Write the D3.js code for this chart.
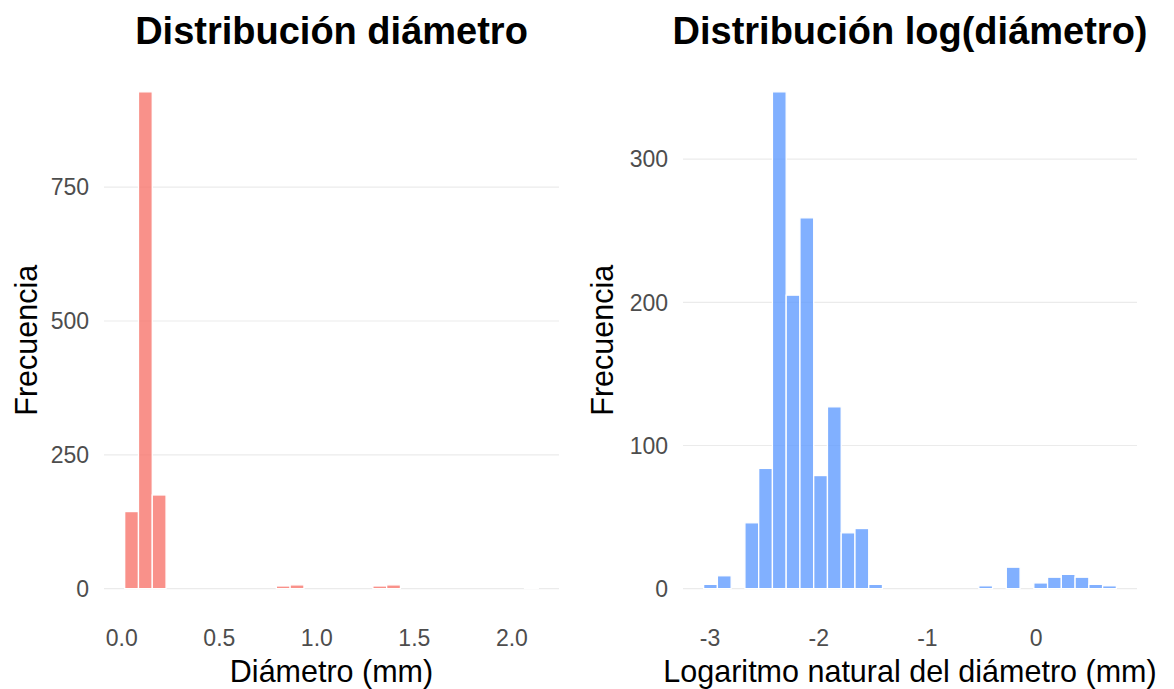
<!DOCTYPE html>
<html>
<head>
<meta charset="utf-8">
<script src="https://cdn.jsdelivr.net/npm/d3@7"></script>
<style>
  body { margin: 0; background: #fff; }
  text { font-family: "Liberation Sans", Arial, sans-serif; }
</style>
</head>
<body>
<svg id="chart" width="1174" height="689"></svg>
<script>
// histogram of diameter (30 bins)
var diamStart = 0.0146, diamWidth = 0.0707;
var diamCounts = [144, 928, 175, 0, 0, 0, 0, 0, 0, 0, 0, 5, 7, 0, 0,
                  0, 0, 0, 5, 7, 0, 0, 0, 0, 0, 0, 0, 0, 0, 1];
var diamXTicks = [0, 0.5, 1, 1.5, 2];
var diamYTicks = [0, 250, 500, 750];

// histogram of log(diameter) (30 bins)
var logStart = -3.059, logWidth = 0.1266;
var logCounts = [3, 9, 0, 46, 84, 347, 205, 259, 79, 127, 39, 42, 3, 0, 0,
                 0, 0, 0, 0, 0, 2, 0, 15, 0, 4, 8, 10, 8, 3, 2];
var logXTicks = [-3, -2, -1, 0];
var logYTicks = [0, 100, 200, 300];

var svg = d3.select('#chart');
var panelTop = 67, panelBottom = 613.5;

function histPanel(opt) {
  var n = opt.counts.length;
  var extent = n * opt.width;
  var bins = opt.counts.map(function(c, i) {
    return {x0: opt.start + i * opt.width, x1: opt.start + (i + 1) * opt.width, count: c};
  });
  var x = d3.scaleLinear()
    .domain([opt.start - 0.05 * extent, opt.start + extent + 0.05 * extent])
    .range([opt.left, opt.right]);
  var ymax = d3.max(opt.counts);
  var y = d3.scaleLinear()
    .domain([-0.05 * ymax, ymax * 1.05])
    .range([panelBottom, panelTop]);

  var g = svg.append('g');

  // horizontal grid only
  g.selectAll('.grid').data(opt.yTicks).enter().append('line')
    .attr('x1', opt.left).attr('x2', opt.right)
    .attr('y1', function(d) { return y(d); })
    .attr('y2', function(d) { return y(d); })
    .attr('stroke', '#EBEBEB')
    .attr('stroke-width', 1.2);

  // zero bins are drawn too: their white outline hides the zero grid line
  g.selectAll('.bar').data(bins).enter().append('rect')
    .attr('x', function(d) { return x(d.x0); })
    .attr('width', function(d) { return x(d.x1) - x(d.x0); })
    .attr('y', function(d) { return y(d.count); })
    .attr('height', function(d) { return y(0) - y(d.count); })
    .attr('fill', opt.color)
    .attr('fill-opacity', 0.8)
    .attr('stroke', 'white')
    .attr('stroke-width', 1.3);

  // y tick labels
  g.selectAll('.ytick').data(opt.yTicks).enter().append('text')
    .attr('x', opt.left - 15)
    .attr('y', function(d) { return y(d); })
    .attr('dy', '0.36em')
    .attr('text-anchor', 'end')
    .attr('font-size', 23)
    .attr('fill', '#4D4D4D')
    .text(function(d) { return d; });

  // x tick labels
  g.selectAll('.xtick').data(opt.xTicks).enter().append('text')
    .attr('x', function(d) { return x(d); })
    .attr('y', panelBottom + 32.5)
    .attr('text-anchor', 'middle')
    .attr('font-size', 23)
    .attr('fill', '#4D4D4D')
    .text(opt.xFormat);

  var cx = (opt.left + opt.right) / 2;
  g.append('text')
    .attr('x', cx).attr('y', 43.5)
    .attr('text-anchor', 'middle')
    .attr('font-size', 38)
    .attr('font-weight', 'bold')
    .attr('fill', '#000')
    .text(opt.title);

  g.append('text')
    .attr('x', cx).attr('y', 682)
    .attr('text-anchor', 'middle')
    .attr('font-size', 30.5)
    .attr('fill', '#000')
    .text(opt.xTitle);

  g.append('text')
    .attr('transform', 'translate(' + opt.yTitleX + ',' + (panelTop + panelBottom) / 2 + ') rotate(-90)')
    .attr('text-anchor', 'middle')
    .attr('font-size', 30.5)
    .attr('fill', '#000')
    .text('Frecuencia');
}

histPanel({
  start: diamStart, width: diamWidth, counts: diamCounts,
  xTicks: diamXTicks, yTicks: diamYTicks,
  left: 104, right: 559, color: '#F8766D',
  xFormat: d3.format('.1f'),
  title: 'Distribución diámetro', xTitle: 'Diámetro (mm)', yTitleX: 36.5
});

histPanel({
  start: logStart, width: logWidth, counts: logCounts,
  xTicks: logXTicks, yTicks: logYTicks,
  left: 683, right: 1137, color: '#619CFF',
  xFormat: function(d) { return String(d); },
  title: 'Distribución log(diámetro)', xTitle: 'Logaritmo natural del diámetro (mm)', yTitleX: 613.3
});
</script>
</body>
</html>
